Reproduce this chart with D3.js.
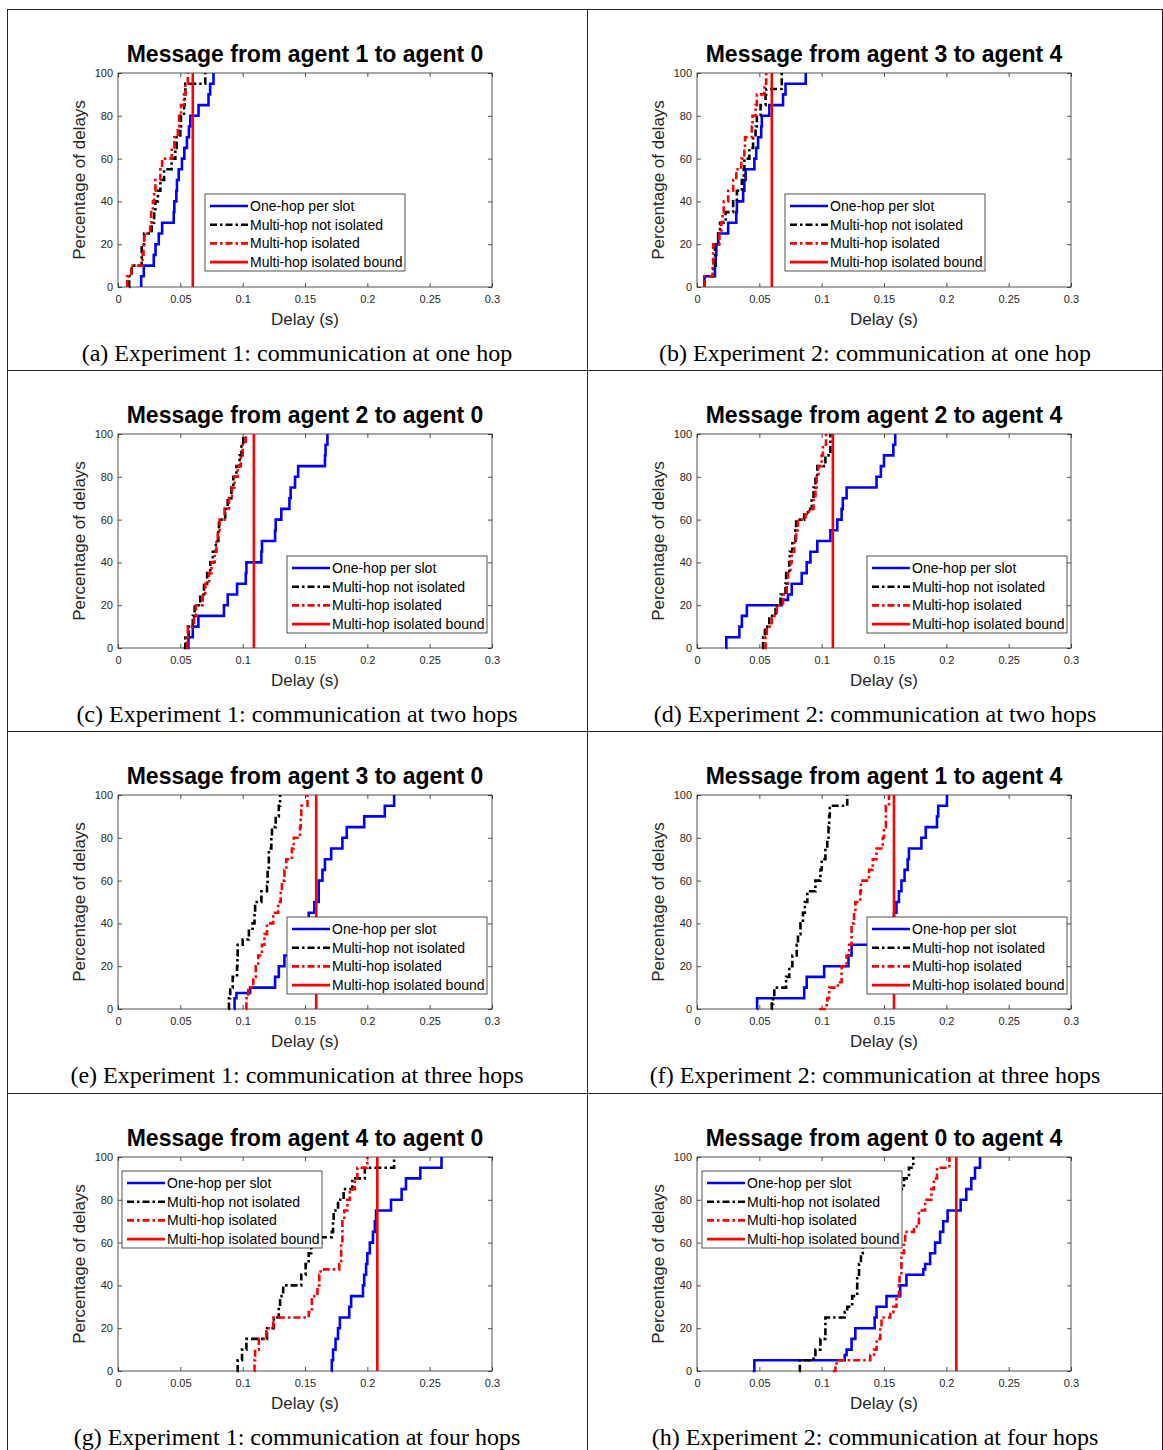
<!DOCTYPE html>
<html><head><meta charset="utf-8">
<script src="https://cdn.jsdelivr.net/npm/d3@7"></script>
<style>body{margin:0;background:#fff}svg{display:block}</style>
</head><body>
<script>
// ---------------- DATA ----------------
const xTicks = [0, 0.05, 0.1, 0.15, 0.2, 0.25, 0.3];
const yTicks = [0, 20, 40, 60, 80, 100];
const titles = [
  "Message from agent 1 to agent 0", "Message from agent 3 to agent 4",
  "Message from agent 2 to agent 0", "Message from agent 2 to agent 4",
  "Message from agent 3 to agent 0", "Message from agent 1 to agent 4",
  "Message from agent 4 to agent 0", "Message from agent 0 to agent 4"];
const captions = [
  "(a) Experiment 1: communication at one hop", "(b) Experiment 2: communication at one hop",
  "(c) Experiment 1: communication at two hops", "(d) Experiment 2: communication at two hops",
  "(e) Experiment 1: communication at three hops", "(f) Experiment 2: communication at three hops",
  "(g) Experiment 1: communication at four hops", "(h) Experiment 2: communication at four hops"];
const seriesNames = ["One-hop per slot", "Multi-hop not isolated", "Multi-hop isolated", "Multi-hop isolated bound"];
const xLabel = "Delay (s)";
const yLabel = "Percentage of delays";
const boundDelay = [0.060, 0.060, 0.109, 0.109, 0.159, 0.158, 0.208, 0.208];

// step points [delay (s), cumulative % after the step]
const oneHop = [
  [[0.0186,0],[0.0186,5],[0.0207,10],[0.0287,15],[0.0301,20],[0.0327,25],[0.0354,30],[0.0447,35],[0.0452,40],[0.0468,45],[0.0473,50],[0.0487,55],[0.0513,60],[0.0532,65],[0.0553,70],[0.0569,75],[0.0580,80],[0.0646,85],[0.0726,90],[0.0739,95],[0.0766,100]],
  [[0.006,0],[0.006,5],[0.0144,10],[0.0150,15],[0.0155,20],[0.0170,25],[0.0250,30],[0.0315,35],[0.0320,40],[0.0370,45],[0.0380,50],[0.0390,55],[0.0460,60],[0.0475,65],[0.0490,70],[0.0515,75],[0.0520,80],[0.0580,85],[0.0690,90],[0.0710,95],[0.0872,100]],
  [[0.0559,0],[0.0565,5],[0.0600,10],[0.0645,15],[0.0850,20],[0.0880,25],[0.0955,30],[0.1025,35],[0.1030,40],[0.1150,45],[0.1155,50],[0.1260,55],[0.1265,60],[0.1310,65],[0.1375,70],[0.1385,75],[0.1420,80],[0.1445,85],[0.1660,90],[0.1665,95],[0.1680,100]],
  [[0.0229,0],[0.0235,5],[0.0340,10],[0.0360,15],[0.0400,20],[0.0680,22.5],[0.0730,25],[0.0760,30],[0.0840,35],[0.0880,40],[0.0910,45],[0.0965,50],[0.1070,55],[0.1125,60],[0.1160,65],[0.1170,70],[0.1200,75],[0.1440,80],[0.1475,85],[0.1500,90],[0.1575,95],[0.1590,100]],
  [[0.0931,0],[0.0935,5],[0.0950,7.5],[0.1060,10],[0.1260,15],[0.1290,20],[0.1335,25],[0.1400,30],[0.1440,35],[0.1500,40],[0.1530,45],[0.1575,50],[0.1610,60],[0.1640,65],[0.1660,70],[0.1710,75],[0.1800,80],[0.1835,85],[0.1975,90],[0.2140,95],[0.2215,100]],
  [[0.0481,0],[0.0482,5],[0.0860,10],[0.0880,15],[0.1020,20],[0.1215,25],[0.1240,30],[0.1570,35],[0.1580,45],[0.1600,50],[0.1620,55],[0.1640,60],[0.1665,65],[0.1690,70],[0.1700,75],[0.1800,80],[0.1835,85],[0.1925,90],[0.1935,95],[0.2005,100]],
  [[0.1710,0],[0.1715,5],[0.1725,10],[0.1745,15],[0.1765,20],[0.1780,25],[0.1855,30],[0.1870,35],[0.1965,40],[0.1975,45],[0.1990,50],[0.2000,55],[0.2020,60],[0.2045,65],[0.2060,70],[0.2070,75],[0.2190,80],[0.2275,85],[0.2310,90],[0.2425,95],[0.2595,100]],
  [[0.0447,0],[0.0460,5],[0.1185,7.5],[0.1200,10],[0.1240,15],[0.1270,20],[0.1425,25],[0.1440,30],[0.1520,35],[0.1630,40],[0.1680,45],[0.1815,47.5],[0.1830,50],[0.1870,55],[0.1910,60],[0.1950,65],[0.1975,70],[0.2010,75],[0.2115,80],[0.2160,85],[0.2200,90],[0.2230,95],[0.2270,100]]
];
const multiNotIso = [
  [[0.0088,0],[0.0090,5],[0.0110,10],[0.0190,20],[0.0210,25],[0.0270,30],[0.0290,35],[0.0300,40],[0.0320,45],[0.0340,50],[0.0370,55],[0.0430,60],[0.0460,65],[0.0470,70],[0.0500,75],[0.0505,80],[0.0530,85],[0.0535,90],[0.0540,95],[0.0700,100]],
  [[0.006,0],[0.006,5],[0.0130,10],[0.0145,20],[0.0170,25],[0.0185,30],[0.0230,35],[0.0290,40],[0.0320,45],[0.0360,50],[0.0375,55],[0.0380,60],[0.0420,65],[0.0450,70],[0.0470,75],[0.0480,80],[0.0510,85],[0.0550,90],[0.0555,92.5],[0.0680,100]],
  [[0.0527,0],[0.0540,5],[0.0566,10],[0.0600,15],[0.0615,20],[0.0660,25],[0.0690,30],[0.0715,35],[0.0740,40],[0.0760,45],[0.0785,50],[0.0805,55],[0.0810,60],[0.0860,65],[0.0880,70],[0.0910,75],[0.0925,80],[0.0950,85],[0.0975,90],[0.0990,95],[0.1005,100]],
  [[0.0521,0],[0.0530,5],[0.0545,10],[0.0580,15],[0.0630,20],[0.0670,25],[0.0710,30],[0.0715,35],[0.0740,40],[0.0745,45],[0.0765,50],[0.0790,55],[0.0795,60],[0.0860,62.5],[0.0890,65],[0.0920,70],[0.0935,75],[0.0950,80],[0.0965,85],[0.1030,90],[0.1070,100]],
  [[0.0886,0],[0.0890,5],[0.0900,10],[0.0920,15],[0.0955,20],[0.0958,25],[0.0960,30],[0.1000,32.5],[0.1050,37.5],[0.1080,40],[0.1095,45],[0.1100,50],[0.1150,55],[0.1195,57.5],[0.1200,65],[0.1210,75],[0.1230,80],[0.1235,85],[0.1265,90],[0.1290,95],[0.1300,100]],
  [[0.0598,0],[0.0600,2.5],[0.0610,5],[0.0620,10],[0.0715,15],[0.0740,20],[0.0765,25],[0.0800,30],[0.0810,35],[0.0830,40],[0.0850,45],[0.0865,50],[0.0885,55],[0.0950,60],[0.0990,65],[0.1000,70],[0.1030,75],[0.1045,80],[0.1055,85],[0.1060,90],[0.1065,95],[0.1205,100]],
  [[0.0952,0],[0.0960,5],[0.0995,10],[0.1030,15],[0.1195,20],[0.1250,25],[0.1290,30],[0.1300,35],[0.1325,40],[0.1470,45],[0.1505,50],[0.1530,55],[0.1550,60],[0.1630,62.5],[0.1715,65],[0.1725,70],[0.1730,75],[0.1765,80],[0.1810,85],[0.1880,90],[0.1980,95],[0.2215,100]],
  [[0.0819,0],[0.0825,5],[0.0935,7.5],[0.0950,10],[0.0990,15],[0.1030,25],[0.1185,27.5],[0.1205,30],[0.1245,35],[0.1285,45],[0.1300,50],[0.1315,55],[0.1330,60],[0.1365,65],[0.1405,70],[0.1445,75],[0.1485,80],[0.1630,85],[0.1660,90],[0.1700,95],[0.1735,100]]
];
const multiIso = [
  [[0.0074,0],[0.0074,5],[0.0106,10],[0.0197,15],[0.0205,20],[0.0210,25],[0.0258,30],[0.0266,35],[0.0280,40],[0.0290,45],[0.0300,50],[0.0340,55],[0.0354,60],[0.0431,65],[0.0452,70],[0.0480,75],[0.0490,80],[0.0505,85],[0.0530,90],[0.0540,95],[0.0560,100]],
  [[0.006,0],[0.006,5],[0.0125,10],[0.0130,20],[0.0180,25],[0.0195,30],[0.0205,35],[0.0215,40],[0.0250,45],[0.0290,50],[0.0315,55],[0.0355,60],[0.0380,65],[0.0385,70],[0.0440,75],[0.0445,80],[0.0470,85],[0.0480,90],[0.0540,95],[0.0555,100]],
  [[0.0553,0],[0.0555,5],[0.0560,10],[0.0610,15],[0.0625,20],[0.0680,25],[0.0700,30],[0.0730,35],[0.0750,40],[0.0775,45],[0.0790,50],[0.0800,55],[0.0815,60],[0.0855,65],[0.0890,70],[0.0915,75],[0.0935,80],[0.0960,85],[0.0985,90],[0.1000,95],[0.1025,100]],
  [[0.0540,0],[0.0550,5],[0.0560,10],[0.0600,15],[0.0640,20],[0.0690,25],[0.0720,30],[0.0730,35],[0.0750,40],[0.0760,45],[0.0780,50],[0.0795,55],[0.0810,60],[0.0870,62.5],[0.0900,65],[0.0935,70],[0.0950,75],[0.0960,80],[0.0975,85],[0.1000,90],[0.1010,95],[0.1035,100]],
  [[0.1027,0],[0.1030,5],[0.1045,10],[0.1085,15],[0.1105,20],[0.1125,25],[0.1155,30],[0.1175,35],[0.1195,40],[0.1245,45],[0.1285,50],[0.1305,55],[0.1315,60],[0.1335,65],[0.1350,70],[0.1395,75],[0.1410,80],[0.1460,85],[0.1465,90],[0.1470,95],[0.1520,100]],
  [[0.0979,0],[0.1040,2.5],[0.1045,5],[0.1060,10],[0.1130,12.5],[0.1160,20],[0.1200,25],[0.1220,30],[0.1240,40],[0.1260,45],[0.1270,50],[0.1310,55],[0.1315,60],[0.1380,65],[0.1410,70],[0.1440,75],[0.1490,80],[0.1500,85],[0.1515,95],[0.1540,100]],
  [[0.1090,0],[0.1095,5],[0.1100,10],[0.1130,15],[0.1190,20],[0.1245,25],[0.1530,27.5],[0.1555,35],[0.1600,40],[0.1615,45],[0.1625,47.5],[0.1775,50],[0.1790,60],[0.1800,70],[0.1815,75],[0.1840,80],[0.1860,85],[0.1900,90],[0.1920,95],[0.2000,100]],
  [[0.1090,0],[0.1110,2.5],[0.1120,5],[0.1390,7.5],[0.1420,10],[0.1440,15],[0.1470,20],[0.1480,25],[0.1550,27.5],[0.1575,30],[0.1600,35],[0.1620,40],[0.1625,45],[0.1640,55],[0.1660,60],[0.1670,65],[0.1740,67.5],[0.1780,75],[0.1830,80],[0.1880,85],[0.1900,90],[0.1925,95],[0.2025,100]]
];

// ---------------- LAYOUT ----------------
const W = 1163, H = 1450;
const svg = d3.select("body").append("svg").attr("width", W).attr("height", H);
const sans = "'Liberation Sans', Arial, Helvetica, sans-serif";
const serif = "'Liberation Serif', 'Times New Roman', Times, serif";
const axisColor = "#262626";

// outer grid of the figure
const gridX = [7.5, 587.5, 1162.5];
const gridY = [9.5, 370.5, 731.5, 1093.5];
gridX.forEach(gx => svg.append("line").attr("x1", gx).attr("x2", gx).attr("y1", 9).attr("y2", H)
  .attr("stroke", "#222").attr("stroke-width", 1));
gridY.forEach(gy => svg.append("line").attr("x1", 7).attr("x2", W).attr("y1", gy).attr("y2", gy)
  .attr("stroke", "#222").attr("stroke-width", 1));

const colOffset = [0, 579];
const rowOffset = [0, 361, 722, 1084];
const cellCenter = [297, 875];
const legendOffset = [[87,121],[88,121],[169,122],[170,122],[169,122],[170,122],[4,14],[5,14]];

const styles = [
  {color: "#0000ff", dash: null},
  {color: "#000000", dash: "7,3,2.5,3"},
  {color: "#ff0000", dash: "7,3,2.5,3"},
  {color: "#ff0000", dash: null}
];

for (let i = 0; i < 8; i++) {
  const col = i % 2, row = Math.floor(i / 2);
  const x0 = 118 + colOffset[col], x1 = 492 + colOffset[col];
  const yTop = 73 + rowOffset[row], yBot = 287 + rowOffset[row];
  const x = d3.scaleLinear().domain([0, 0.3]).range([x0, x1]);
  const y = d3.scaleLinear().domain([0, 100]).range([yBot, yTop]);
  const g = svg.append("g");

  // box
  g.append("rect").attr("x", x0).attr("y", yTop).attr("width", x1 - x0).attr("height", yBot - yTop)
    .attr("fill", "#fff").attr("stroke", axisColor).attr("stroke-width", 0.8);

  const fmt = d3.format("~g");
  const ax = g.append("g").attr("transform", `translate(0,${yBot})`)
    .call(d3.axisBottom(x).tickValues(xTicks).tickFormat(fmt).tickSizeInner(-4).tickSizeOuter(0).tickPadding(8));
  const axT = g.append("g").attr("transform", `translate(0,${yTop})`)
    .call(d3.axisTop(x).tickValues(xTicks).tickFormat("").tickSizeInner(-4).tickSizeOuter(0));
  const ay = g.append("g").attr("transform", `translate(${x0},0)`)
    .call(d3.axisLeft(y).tickValues(yTicks).tickFormat(fmt).tickSizeInner(-4).tickSizeOuter(0).tickPadding(5));
  const ayR = g.append("g").attr("transform", `translate(${x1},0)`)
    .call(d3.axisRight(y).tickValues(yTicks).tickFormat("").tickSizeInner(-4).tickSizeOuter(0));
  [ax, axT, ay, ayR].forEach(a => {
    a.select(".domain").remove();
    a.selectAll(".tick line").attr("stroke", axisColor).attr("stroke-width", 0.8);
    a.selectAll(".tick text").attr("fill", axisColor).style("font-family", sans).style("font-size", "11px");
  });

  // series
  const line = d3.line().x(d => x(d[0])).y(d => y(d[1])).curve(d3.curveStepAfter);
  const seriesData = [oneHop[i], multiNotIso[i], multiIso[i]];
  seriesData.forEach((data, k) => {
    g.append("path").datum(data).attr("d", line).attr("fill", "none")
      .attr("stroke", styles[k].color).attr("stroke-width", 2.6)
      .attr("stroke-dasharray", styles[k].dash);
  });
  // bound line
  g.append("path").datum([[boundDelay[i], 0], [boundDelay[i], 100]])
    .attr("d", d3.line().x(d => x(d[0])).y(d => y(d[1])))
    .attr("stroke", styles[3].color).attr("stroke-width", 2.6).attr("fill", "none");

  // title
  g.append("text").attr("x", (x0 + x1) / 2).attr("y", yTop - 11).attr("text-anchor", "middle")
    .style("font-family", sans).style("font-size", "23px").style("font-weight", "bold").text(titles[i]);
  // axis labels
  g.append("text").attr("x", (x0 + x1) / 2).attr("y", yBot + 38).attr("text-anchor", "middle")
    .style("font-family", sans).style("font-size", "17px").attr("fill", axisColor).text(xLabel);
  g.append("text").attr("transform", `translate(${x0 - 33},${(yTop + yBot) / 2}) rotate(-90)`)
    .attr("text-anchor", "middle").style("font-family", sans).style("font-size", "17px")
    .attr("fill", axisColor).text(yLabel);
  // caption
  g.append("text").attr("x", cellCenter[col]).attr("y", 361 + rowOffset[row]).attr("text-anchor", "middle")
    .style("font-family", serif).style("font-size", "24px").text(captions[i]);

  // legend
  const lx = x0 + legendOffset[i][0], ly = yTop + legendOffset[i][1];
  const lg = g.append("g").attr("transform", `translate(${lx},${ly})`);
  lg.append("rect").attr("width", 200).attr("height", 77).attr("fill", "#fff")
    .attr("stroke", axisColor).attr("stroke-width", 0.8);
  seriesNames.forEach((name, k) => {
    const yy = 12 + k * 18.7;
    lg.append("line").attr("x1", 5).attr("x2", 43).attr("y1", yy).attr("y2", yy)
      .attr("stroke", styles[k].color).attr("stroke-width", 2.6).attr("stroke-dasharray", styles[k].dash);
    lg.append("text").attr("x", 45).attr("y", yy).attr("dy", "0.35em")
      .style("font-family", sans).style("font-size", "14px").text(name);
  });
}
</script>
</body></html>
